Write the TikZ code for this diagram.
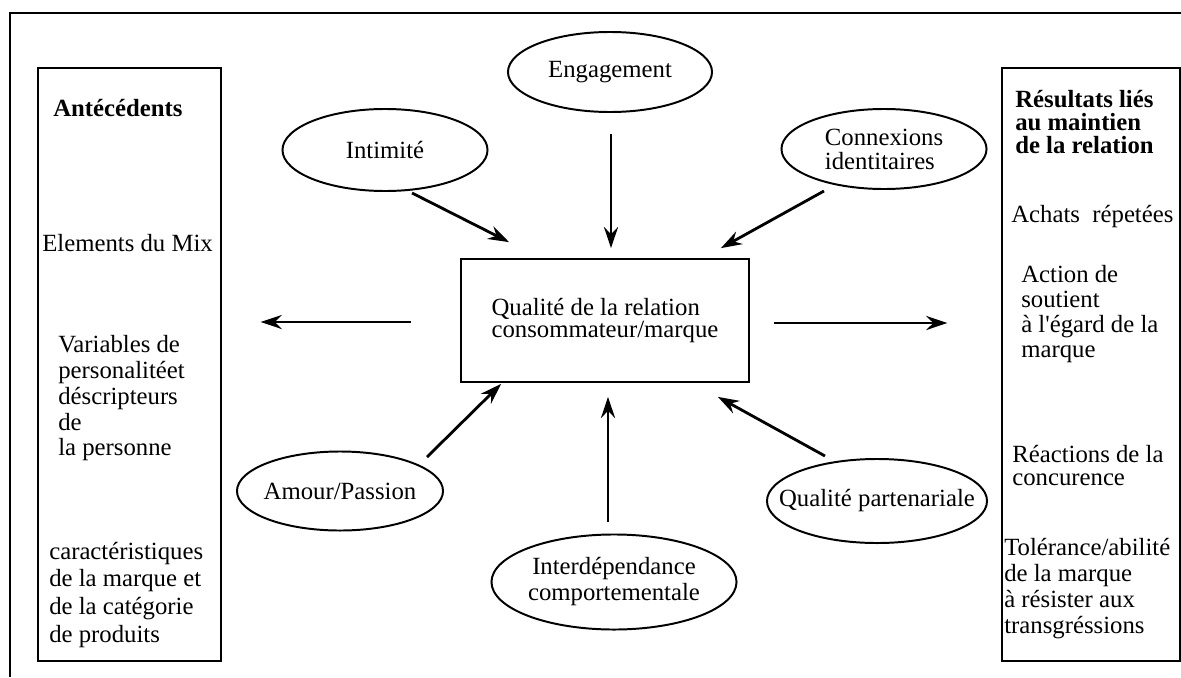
\documentclass[tikz,border=0pt]{standalone}
\usepackage{fontspec}
\setmainfont{Liberation Serif}
\usetikzlibrary{shapes.geometric, arrows.meta, calc}
\newcommand{\fsz}[1]{\fontsize{17.6}{#1}\selectfont}

\begin{document}
\begin{tikzpicture}[x=0.025cm, y=-0.025cm,
    oval/.style={draw, ellipse, line width=1.4pt, inner sep=0pt},
    side/.style={draw, line width=0.9pt, minimum height=14.825cm},
    txt/.style={inner sep=0pt, anchor=west, align=left},
    arr/.style={-{Stealth[length=15pt, width=10pt, inset=5pt]}, line width=2pt}]
        \useasboundingbox (0, 0) rectangle (1181, 677);
        \draw[line width=1.6pt] (1181, 13) -- (10, 13) -- (10, 677);

        \node[side, minimum width=4.575cm] (ANT) at (129.5, 364.5) {};
        \node[side, minimum width=4.45cm] (RES) at (1091, 364.5) {};
        \node[draw, line width=1.2pt, minimum width=7.2cm, minimum height=3.075cm,
          font=\fsz{16}, align=left]
          (QRC) at (605, 320.5) {Qualité de la relation\\ consommateur/marque};

        \node[oval, minimum width=5.1cm, minimum height=2cm, font=\fsz{18}]
          (ENG) at (610, 72) {Engagement};
        \node[oval, minimum width=5.125cm, minimum height=2.05cm, font=\fsz{18}]
          (INT) at (385, 150) {Intimité};
        \node[oval, minimum width=5.125cm, minimum height=2cm, font=\fsz{17}, align=left]
          (CON) at (884, 149) {Connexions\\identitaires};
        \node[oval, minimum width=5.15cm, minimum height=1.975cm, font=\fsz{18}]
          (AMP) at (340, 491) {\makebox[0pt]{Amour/Passion}};
        \node[oval, minimum width=6.125cm, minimum height=2.375cm, font=\fsz{18.5}, align=center]
          (IDC) at (614, 582) {Interdépendance\\comportementale};
        \node[oval, minimum width=5.5cm, minimum height=2.1cm, font=\fsz{18}]
          (QPA) at (877, 501) {\makebox[0pt]{Qualité partenariale}};

        \node[txt, font=\fsz{18}\bfseries] (ANTT) at (53, 108) {Antécédents};
        \node[txt, font=\fsz{18}] (MIX) at (42, 243) {Elements du Mix};
        \node[txt, font=\fsz{18.3}] (VAR) at (58, 398.5)
          {Variables de\\personalitéet\\déscripteurs\\de\\la personne};
        \node[txt, font=\fsz{19.9}] (CAR) at (49, 595)
          {caractéristiques\\de la marque et\\de la catégorie\\de produits};

        \node[txt, font=\fsz{16.2}\bfseries] (REST) at (1015, 122)
          {Résultats liés\\au maintien\\de la relation};
        \node[txt, font=\fsz{18}] (ACH) at (1011, 217) {Achats\ \ répetées};
        \node[txt, font=\fsz{17.8}] (SOU) at (1021, 314)
          {Action de\\soutient\\à l\textquotesingle égard de la\\marque};
        \node[txt, font=\fsz{16}] (CONC) at (1012, 465.5) {Réactions de la\\concurence};
        \node[txt, font=\fsz{18.5}] (TOL) at (1004, 589)
          {Tolérance/abilité\\de la marque\\à résister aux\\transgréssions};

        \draw[arr] ($(INT.south)+(27, 1)$) -- ($(QRC.north west)+(49, -16)$);
        \draw[arr] ($(ENG.south)+(1, 21)$) -- ($(QRC.north)+(6, -10)$);
        \draw[arr] ($(CON.south)+(-60, 1)$) -- ($(QRC.north east)+(-29, -10)$);
        \draw[arr] ($(AMP.north)+(87, 6.5)$) -- ($(QRC.south west)+(41, 1)$);
        \draw[arr] ($(IDC.north)+(-6, -11.5)$) -- ($(QRC.south)+(3, 14)$);
        \draw[arr] ($(QPA.north)+(-52, -2)$) -- ($(QRC.south east)+(-32, 14)$);
        \draw[arr] ($(QRC.west)+(-49, 1.5)$) -- ($(ANT.east |- QRC.west)+(39, 1.5)$);
        \draw[arr] ($(QRC.east)+(24, 2.5)$) -- ($(RES.west |- QRC.east)+(-54, 2.5)$);
      \end{tikzpicture}
\end{document}
